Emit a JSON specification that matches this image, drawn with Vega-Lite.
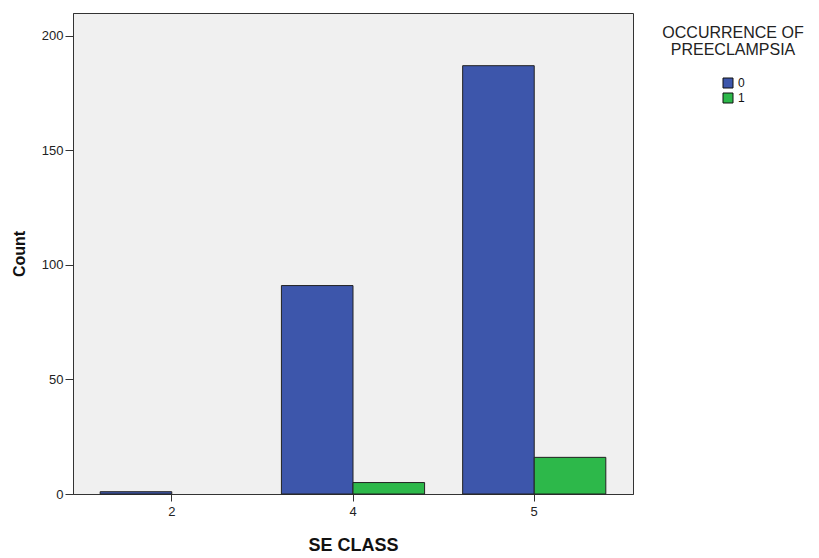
{
  "$schema": "https://vega.github.io/schema/vega-lite/v6.json",
  "autosize": "none",
  "width": 560,
  "height": 481,
  "padding": {"left": 73, "top": 13, "right": 186, "bottom": 64},
  "background": "white",
  "config": {
    "font": "Liberation Sans",
    "view": {"fill": "#F0F0F0", "stroke": "#333333", "strokeWidth": 1},
    "axis": {"grid": false, "domainColor": "#333333", "tickColor": "#333333", "labelColor": "#222222", "titleColor": "#111111", "labelFontSize": 13, "tickSize": 8}
  },
  "data": {
    "values": [
      {"se_class": "2", "preeclampsia": "0", "count": 1},
      {"se_class": "4", "preeclampsia": "0", "count": 91},
      {"se_class": "4", "preeclampsia": "1", "count": 5},
      {"se_class": "5", "preeclampsia": "0", "count": 187},
      {"se_class": "5", "preeclampsia": "1", "count": 16}
    ]
  },
  "mark": {"type": "bar", "stroke": "#222222", "strokeWidth": 1},
  "encoding": {
    "x": {
      "field": "se_class", "type": "nominal",
      "scale": {"domain": ["2", "4", "5"], "paddingInner": 0.21, "paddingOuter": 0.15},
      "axis": {"title": "SE CLASS", "labelAngle": 0, "tickSize": 7, "titleFontSize": 18, "titleFontWeight": "bold", "labelPadding": 4, "titlePadding": 18}
    },
    "xOffset": {"field": "preeclampsia", "type": "nominal", "scale": {"domain": ["0", "1"], "paddingInner": 0, "paddingOuter": 0}},
    "y": {
      "field": "count", "type": "quantitative",
      "scale": {"domain": [0, 210], "nice": false},
      "axis": {"title": "Count", "values": [0, 50, 100, 150, 200], "titleFontSize": 16, "titleFontWeight": "bold", "titlePadding": 14, "labelPadding": 2}
    },
    "color": {
      "field": "preeclampsia", "type": "nominal",
      "scale": {"domain": ["0", "1"], "range": ["#3D56AB", "#2DB84A"]},
      "legend": {
        "title": ["OCCURRENCE  OF", "PREECLAMPSIA"],
        "orient": "none",
        "legendX": 587,
        "legendY": 12,
        "padding": 0,
        "titleFontSize": 16,
        "titleFontWeight": "normal",
        "titleColor": "#222222",
        "titleAlign": "center",
        "titleAnchor": "middle",
        "titleLineHeight": 17,
        "titlePadding": 19,
        "symbolType": "square",
        "symbolSize": 100,
        "symbolStrokeColor": "#111111",
        "symbolStrokeWidth": 1,
        "symbolFillOpacity": 1,
        "labelOffset": 4,
        "labelFontSize": 12,
        "labelColor": "#111111",
        "rowPadding": 1
      }
    }
  }
}
